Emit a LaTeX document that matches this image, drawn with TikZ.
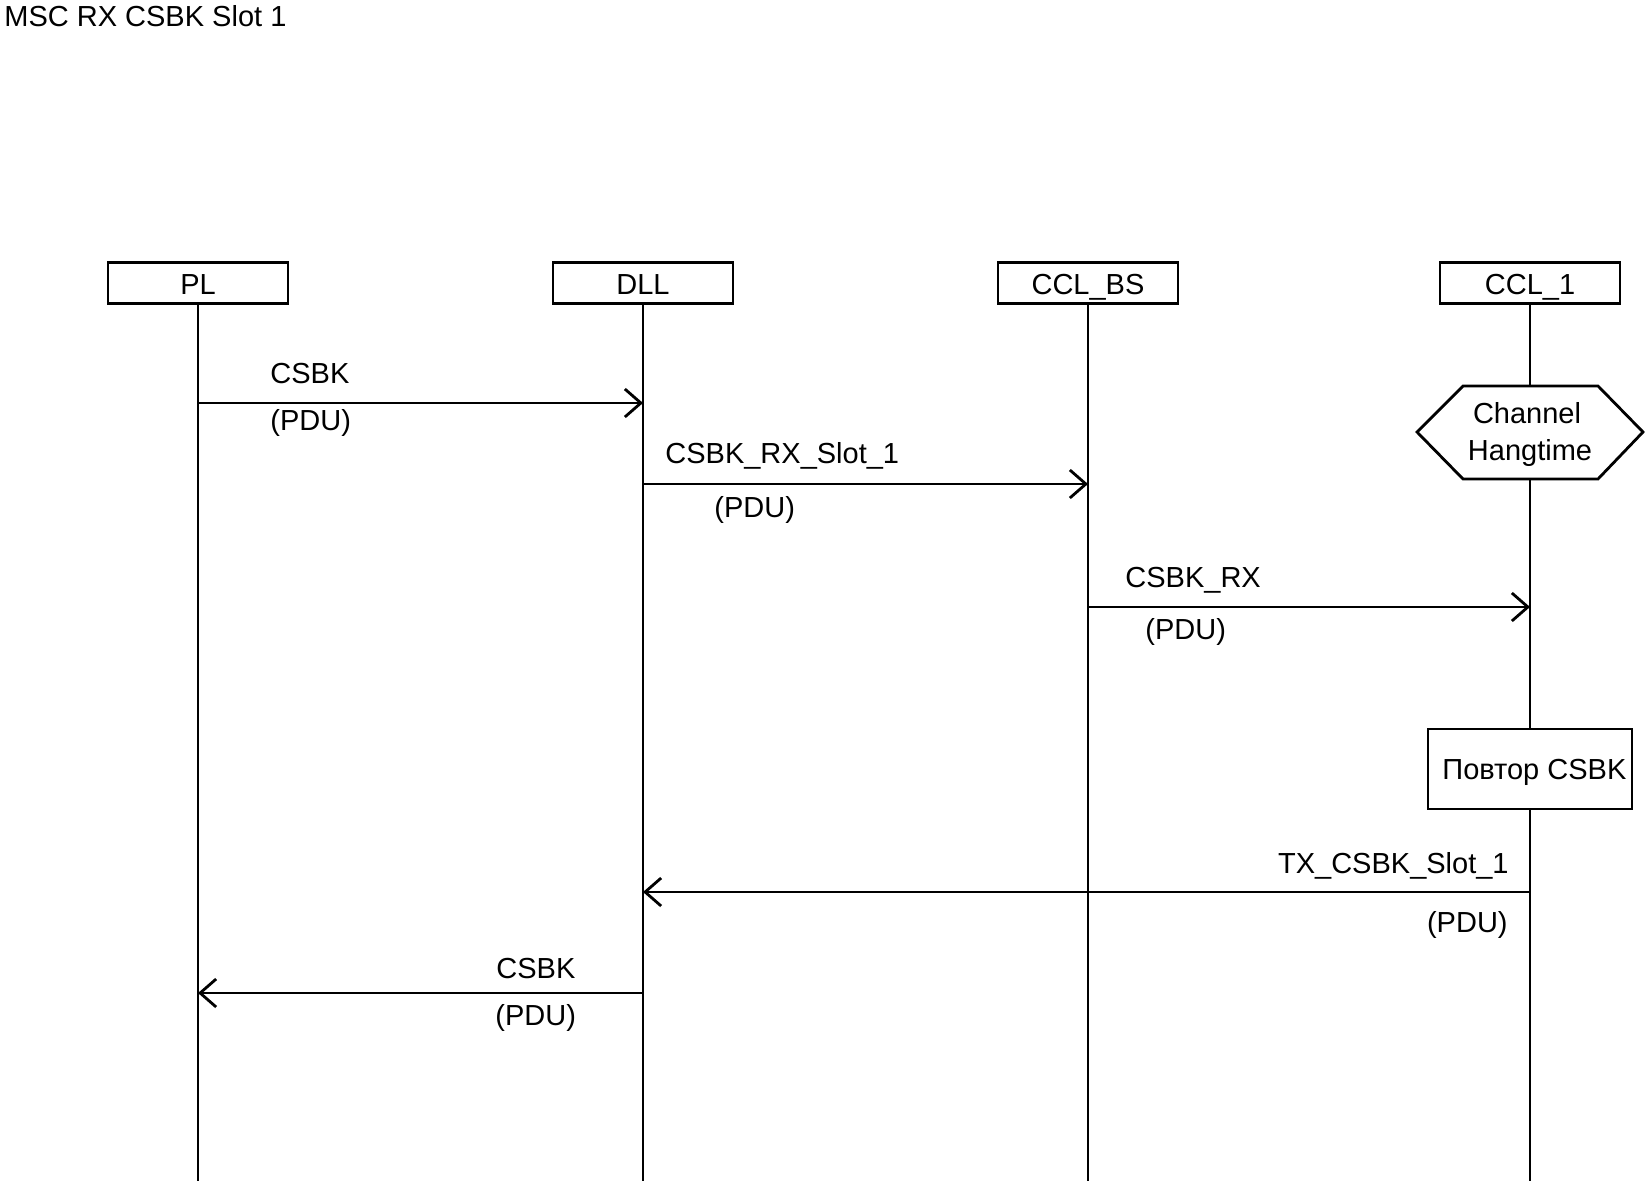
\documentclass[tikz,border=0pt]{standalone}
\usepackage{fontspec}
\setmainfont{Liberation Sans}
\usetikzlibrary{arrows.meta}

\begin{document}
\begin{tikzpicture}[x=1pt, y=-1pt, line width=2.8pt,
  txt/.style={inner sep=0pt, font=\fontsize{29}{32}\selectfont},
  head/.style={draw, txt, minimum width=180pt, minimum height=41pt,
    text height=22pt, text depth=0pt},
  life/.style={line cap=butt},
  msg/.style={-{Straight Barb[length=16pt, width=28pt]}},
  actbox/.style={draw, fill=white, minimum width=204pt, minimum height=80pt}]
  \useasboundingbox (0,0) rectangle (1649,1186);
  % titre
  \node[txt, anchor=base west] (title) at (3,26) {MSC RX CSBK Slot 1};
  % instances
  \node[head] (pl) at (198,283) {PL};
  \node[head] (dll) at (643,283) {DLL};
  \node[head] (ccbs) at (1088,283) {CCL\_BS};
  \node[head] (ccl) at (1530,283) {CCL\_1};
  \coordinate (pl-e) at (198,1181);
  \coordinate (dll-e) at (643,1181);
  \coordinate (ccbs-e) at (1088,1181);
  \coordinate (ccl-e) at (1530,1181);
  \draw[life] (pl.south) -- (pl-e);
  \draw[life] (dll.south) -- (dll-e);
  \draw[life] (ccbs.south) -- (ccbs-e);
  \draw[life] (ccl.south) -- (ccl-e);
  % Channel Hangtime
  \draw[fill=white] (1417,432) -- (1463,386) -- (1598,386) -- (1643,432)
    -- (1598,479) -- (1463,479) -- cycle;
  \node[txt, anchor=base] (hang1) at (1527,423) {Channel};
  \node[txt, anchor=base] (hang2) at (1530,460) {Hangtime};
  % Повтор
  \node[actbox] (rep) at (1530,769) {};
  \node[txt, anchor=base west] (reptxt) at (1441,779) {Повтор CSBK};
  % messages
  \coordinate (m1a) at (198,403);  \coordinate (m1b) at (643,403);
  \coordinate (m2a) at (643,484);  \coordinate (m2b) at (1088,484);
  \coordinate (m3a) at (1088,607); \coordinate (m3b) at (1530,607);
  \coordinate (m4a) at (1530,892); \coordinate (m4b) at (643,892);
  \coordinate (m5a) at (643,993);  \coordinate (m5b) at (198,993);
  \draw[msg] (m1a) -- (m1b);
  \draw[msg] (m2a) -- (m2b);
  \draw[msg] (m3a) -- (m3b);
  \draw[msg] (m4a) -- (m4b);
  \draw[msg] (m5a) -- (m5b);
  \node[txt, anchor=base west] (l1) at (269,383) {CSBK};
  \node[txt, anchor=base west] (p1) at (269,430) {(PDU)};
  \node[txt, anchor=base west] (l2) at (664,463) {CSBK\_RX\_Slot\_1};
  \node[txt, anchor=base west] (p2) at (713,517) {(PDU)};
  \node[txt, anchor=base west] (l3) at (1124,587) {CSBK\_RX};
  \node[txt, anchor=base west] (p3) at (1144,639) {(PDU)};
  \node[txt, anchor=base east] (l4) at (1510,873) {TX\_CSBK\_Slot\_1};
  \node[txt, anchor=base east] (p4) at (1509,932) {(PDU)};
  \node[txt, anchor=base west] (l5) at (495,978) {CSBK};
  \node[txt, anchor=base west] (p5) at (494,1025) {(PDU)};
\end{tikzpicture}
\end{document}
